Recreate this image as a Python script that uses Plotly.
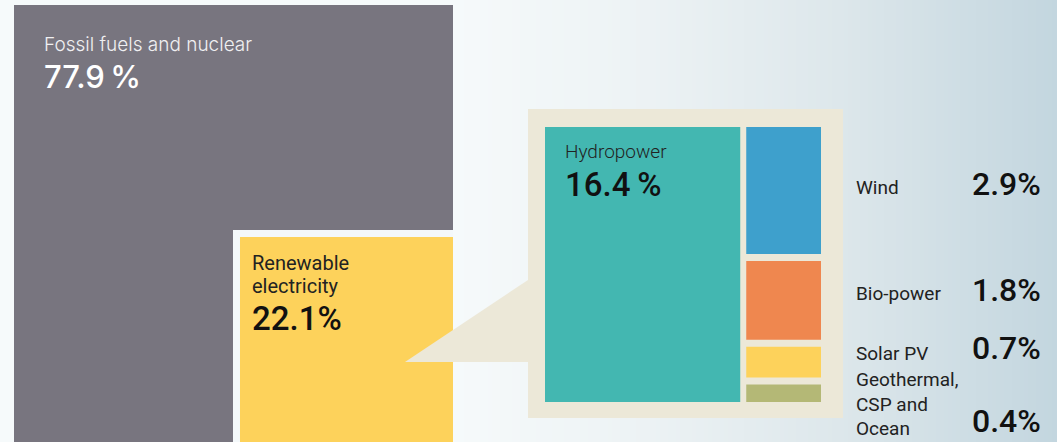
import numpy as np
import plotly.graph_objects as go

# ---------------- data ----------------
main_labels = ["Fossil fuels and nuclear", "Renewable electricity"]
main_shares = [77.9, 22.1]

tech_labels = ["Hydropower", "Wind", "Bio-power", "Solar PV", "Geothermal,<br>CSP and<br>Ocean"]
tech_shares = [16.4, 2.9, 1.8, 0.7, 0.4]

# ---------------- style ----------------
W, H = 1057, 442
C_FOSSIL = "#78757f"
C_RENEW = "#fdd25b"
C_BORDER = "#f4f8fa"
C_PANEL = "#ece8d8"
TECH_COLORS = ["#43b7b1", "#3ea0cc", "#ef874f", "#fdd25b", "#b4b876"]
FONT_A = "Inter"
FONT_B = "Roboto"

fig = go.Figure()


def rect(x0, x1, y0, y1, color, name):
    fig.add_trace(go.Bar(
        x=[(x0 + x1) / 2], width=[x1 - x0], base=[y0], y=[y1 - y0],
        marker=dict(color=color, line=dict(width=0)),
        hoverinfo="skip", showlegend=False, name=name))


# ---- outer block: fossil (whole box) with renewables square at its bottom-right
OX0, OX1, OY0, OY1 = 14, 453, 5, 442
outer_area = (OX1 - OX0) * (OY1 - OY0)
ren_area = main_shares[1] / sum(main_shares) * outer_area * 1.03
aspect = 213 / 205
rw = np.sqrt(ren_area * aspect)
rh = ren_area / rw
RX0, RY0 = OX1 - rw, OY1 - rh
BORDER = 7

rect(OX0, OX1, OY0, OY1, C_FOSSIL, main_labels[0])
rect(RX0 - BORDER, OX1, RY0 - BORDER, OY1, C_BORDER, "border")
rect(RX0, OX1, RY0, OY1, C_RENEW, main_labels[1])

# ---- treemap of renewable technologies
TX0, TX1, TY0, TY1 = 545, 821, 127, 402
HGAP, VGAP = 6, 7
small = tech_shares[1:]
col_h = (TY1 - TY0) - VGAP * (len(small) - 1)
k = tech_shares[0] * col_h / ((TY1 - TY0) * sum(small))
w_r = (TX1 - TX0 - HGAP) / (1 + k)
w_h = k * w_r
rect(TX0, TX0 + w_h, TY0, TY1, TECH_COLORS[0], tech_labels[0])
y = TY0
for v, c, lab in zip(small, TECH_COLORS[1:], tech_labels[1:]):
    h = v / sum(small) * col_h
    rect(TX1 - w_r, TX1, y, y + h, c, lab)
    y += h + VGAP

# ---------------- background & panel shapes ----------------
shapes = []
stops_x = [0, 450, 650, 840, 1057]
stops_c = [(246, 250, 251), (246, 250, 251), (236, 242, 244), (221, 231, 235), (195, 214, 223)]
step = 4
for xs in range(440, W, step):
    xm = xs + step / 2
    col = [int(round(np.interp(xm, stops_x, [c[i] for c in stops_c]))) for i in range(3)]
    shapes.append(dict(type="rect", xref="x", yref="y", x0=xs, x1=xs + step + 0.6, y0=0, y1=H,
                       fillcolor=f"rgb({col[0]},{col[1]},{col[2]})", line=dict(width=0), layer="below"))
# beige panel behind treemap
shapes.append(dict(type="rect", xref="x", yref="y", x0=TX0 - 17, x1=TX1 + 22, y0=TY0 - 18, y1=TY1 + 16,
                   fillcolor=C_PANEL, line=dict(width=0), layer="below"))
# callout wedge from renewables box to the panel
shapes.append(dict(type="path", xref="x", yref="y",
                   path=f"M 405,362 L {TX0 - 17},280 L {TX0 - 17},362 Z",
                   fillcolor=C_PANEL, line=dict(width=0), layer="above"))

# ---------------- text ----------------
ann = []


def text(x, y, s, size, color, family, weight=400, xanchor="left"):
    ann.append(dict(x=x, y=y, xref="x", yref="y", text=s, showarrow=False,
                    xanchor=xanchor, yanchor="middle", align="left",
                    font=dict(size=size, color=color, family=family, weight=weight)))


text(42, 44, main_labels[0], 19, "#f0f0f2", FONT_A, 300)
text(42, 76, f"{main_shares[0]:.1f}\u2009%", 31, "#ffffff", FONT_A, 500)

text(RX0 + 10, 263, "Renewable", 20, "#222222", FONT_B)
text(RX0 + 10, 286, "electricity", 20, "#222222", FONT_B)
text(RX0 + 10, 318, f"{main_shares[1]:.1f}%", 33, "#111111", FONT_B, 500)

text(TX0 + 18, 151, tech_labels[0], 19, "#222222", FONT_B, 300)
text(TX0 + 18, 184, f"{tech_shares[0]:.1f}\u2009%", 33, "#111111", FONT_B, 500)

label_y = [187, 293.5, 353, 404]
value_y = [184, 289.5, 348, 421]
for lab, v, ly, vy in zip(tech_labels[1:], small, label_y, value_y):
    text(854, ly, lab, 19, "#222222", FONT_B)
    text(1043, vy, f"{v:.1f}%", 32, "#111111", FONT_B, 500, xanchor="right")

fig.update_layout(
    width=W, height=H, margin=dict(l=0, r=0, t=0, b=0),
    paper_bgcolor="#f6fafb", plot_bgcolor="rgba(0,0,0,0)",
    barmode="overlay", showlegend=False,
    xaxis=dict(range=[0, W], visible=False, fixedrange=True),
    yaxis=dict(range=[H, 0], visible=False, fixedrange=True),
    shapes=shapes, annotations=ann,
)

fig.write_html("out.html", config={"displayModeBar": False},
               post_script="document.body.style.margin='0';")
